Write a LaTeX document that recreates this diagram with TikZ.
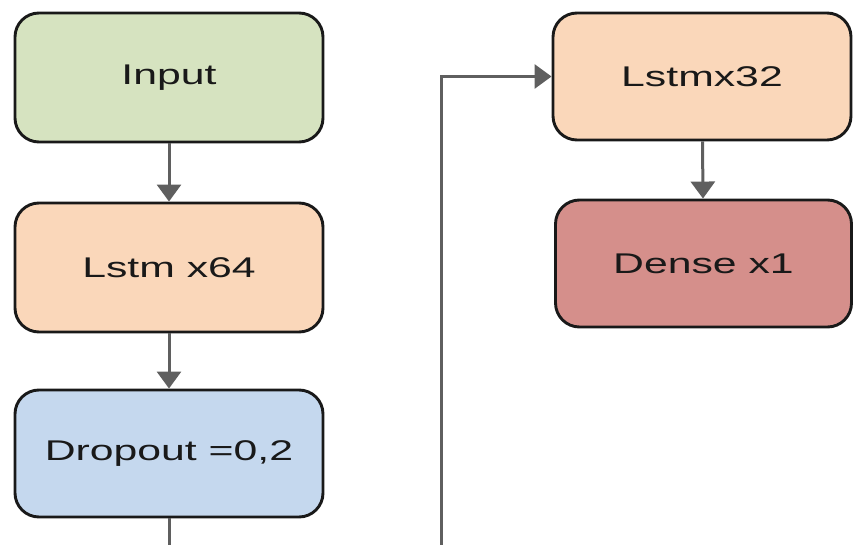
\documentclass[tikz,border=0pt]{standalone}
\usepackage{fontspec}
\setmainfont{Liberation Sans}
\usetikzlibrary{arrows.meta}
\definecolor{ingreen}{RGB}{214,227,192}
\definecolor{lstmor}{RGB}{250,215,186}
\definecolor{dropbl}{RGB}{197,216,238}
\definecolor{densered}{RGB}{213,143,139}
\definecolor{linegray}{RGB}{95,95,95}
\definecolor{edgeblk}{RGB}{25,25,25}
\tikzset{
  layerbox/.style={draw=edgeblk, line width=2.9pt, rounded corners=24pt, inner sep=0pt,
    font=\fontsize{28.5}{31}\selectfont, text=edgeblk},
  conn/.style={draw=linegray, line width=3pt, -{Triangle[width=24pt,length=17pt]}},
  plainconn/.style={draw=linegray, line width=3pt}
}
\newcommand{\wide}[1]{\scalebox{1.5}[1]{#1}}
\begin{document}
\begin{tikzpicture}[x=1pt,y=-1pt]
\useasboundingbox (0,0) rectangle (854,545);
\node[layerbox, fill=ingreen, minimum width=308pt, minimum height=129pt] (input) at (169,77.5) {\wide{Input}};
\node[layerbox, fill=lstmor, minimum width=308pt, minimum height=129pt] (lstm64) at (169,267.5) {\wide{Lstm x64}};
\node[layerbox, fill=dropbl, minimum width=308pt, minimum height=127pt] (drop) at (169,453.5) {\wide{Dropout =0,2}};
\node[layerbox, fill=lstmor, minimum width=298pt, minimum height=127pt] (lstm32) at (702,76.5) {\wide{Lstmx32}};
\node[layerbox, fill=densered, minimum width=296pt, minimum height=127pt] (dense) at (703.5,263.5) {\wide{Dense x1}};
\coordinate (dropend) at (169,547);
\coordinate (loopstart) at (441,547);
\draw[conn] (input) -- (lstm64);
\draw[conn] (lstm64) -- (drop);
\draw[plainconn] (drop) -- (dropend);
\draw[conn] (loopstart) |- (lstm32.west);
\draw[conn] (lstm32) -- (dense);
\end{tikzpicture}
\end{document}
